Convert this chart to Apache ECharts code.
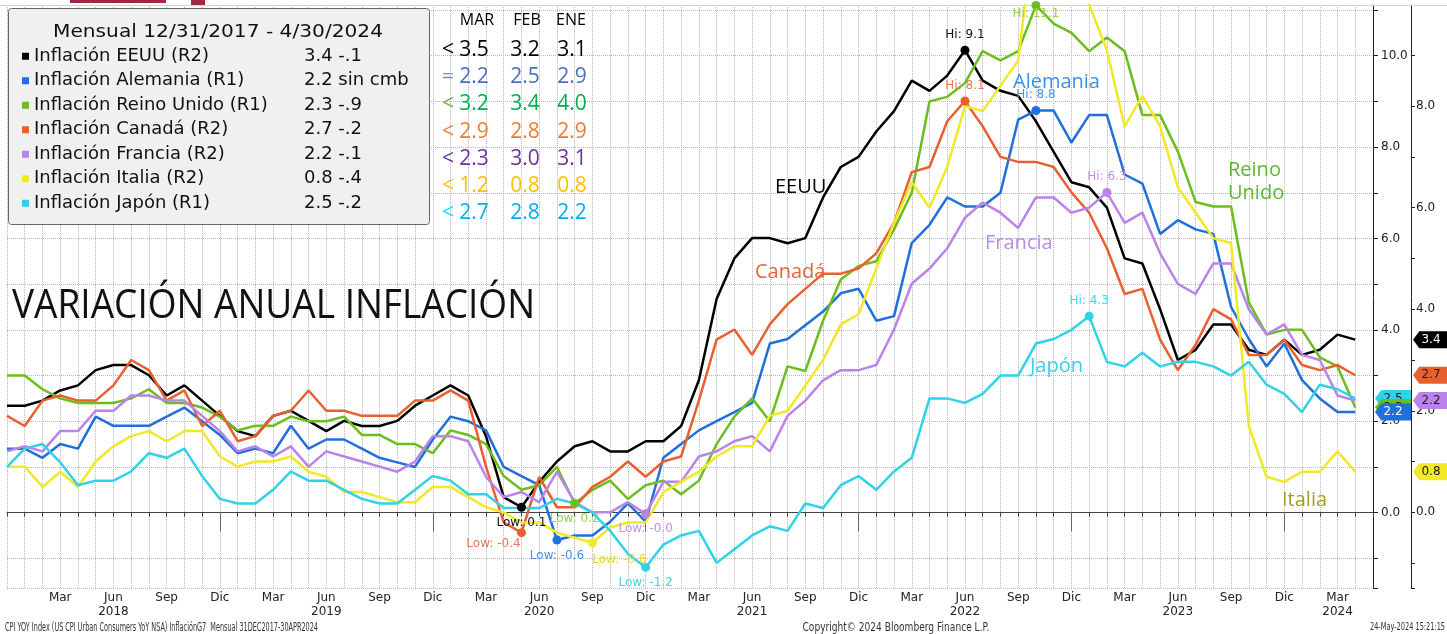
<!DOCTYPE html>
<html>
<head>
<meta charset="utf-8">
<script src="https://cdn.jsdelivr.net/npm/echarts@6.0.0/dist/echarts.min.js"></script>
<style>
    html, body { margin: 0; padding: 0; background: #fff; }
    #chart { width: 1447px; height: 634px; }
</style>
</head>
<body>
<div id="chart"></div>
<script>
// months Dec 2017 .. May 2024 (last slot is empty, Bloomberg leaves one month of room)
const months = [];
for (let y = 2017, m = 12; months.length < 78; m++) {
    if (m > 12) { m = 1; y++; }
    months.push(y + '-' + (m < 10 ? '0' + m : m));
}
const quarterNames = ['Mar', 'Jun', 'Sep', 'Dic'];
const yearLabelMonths = ['2018-06', '2019-06', '2020-06', '2021-06', '2022-06', '2023-06', '2024-03'];

// YoY inflation, monthly, Dec 2017 .. Apr 2024
const eeuu = [2.1,
    2.1, 2.2, 2.4, 2.5, 2.8, 2.9, 2.9, 2.7, 2.3, 2.5, 2.2, 1.9,
    1.6, 1.5, 1.9, 2.0, 1.8, 1.6, 1.8, 1.7, 1.7, 1.8, 2.1, 2.3,
    2.5, 2.3, 1.5, 0.3, 0.1, 0.6, 1.0, 1.3, 1.4, 1.2, 1.2, 1.4,
    1.4, 1.7, 2.6, 4.2, 5.0, 5.4, 5.4, 5.3, 5.4, 6.2, 6.8, 7.0,
    7.5, 7.9, 8.5, 8.3, 8.6, 9.1, 8.5, 8.3, 8.2, 7.7, 7.1, 6.5,
    6.4, 6.0, 5.0, 4.9, 4.0, 3.0, 3.2, 3.7, 3.7, 3.2, 3.1, 3.4,
    3.1, 3.2, 3.5, 3.4];
const alemania = [1.4,
    1.4, 1.2, 1.5, 1.4, 2.1, 1.9, 1.9, 1.9, 2.1, 2.3, 2.0, 1.7,
    1.3, 1.4, 1.3, 1.9, 1.4, 1.6, 1.6, 1.4, 1.2, 1.1, 1.0, 1.6,
    2.1, 2.0, 1.8, 1.0, 0.8, 0.6, -0.6, -0.5, -0.5, -0.2, 0.2, -0.2,
    1.2, 1.5, 1.8, 2.0, 2.2, 2.4, 3.7, 3.8, 4.1, 4.4, 4.8, 4.9,
    4.2, 4.3, 5.9, 6.3, 6.9, 6.7, 6.7, 7.0, 8.6, 8.8, 8.8, 8.1,
    8.7, 8.7, 7.4, 7.2, 6.1, 6.4, 6.2, 6.1, 4.5, 3.8, 3.2, 3.7,
    2.9, 2.5, 2.2, 2.2];
const reinoUnido = [3.0,
    3.0, 2.7, 2.5, 2.4, 2.4, 2.4, 2.5, 2.7, 2.4, 2.4, 2.3, 2.1,
    1.8, 1.9, 1.9, 2.1, 2.0, 2.0, 2.1, 1.7, 1.7, 1.5, 1.5, 1.3,
    1.8, 1.7, 1.5, 0.8, 0.5, 0.6, 1.0, 0.2, 0.5, 0.7, 0.3, 0.6,
    0.7, 0.4, 0.7, 1.5, 2.1, 2.5, 2.0, 3.2, 3.1, 4.2, 5.1, 5.4,
    5.5, 6.2, 7.0, 9.0, 9.1, 9.4, 10.1, 9.9, 10.1, 11.1, 10.7, 10.5,
    10.1, 10.4, 10.1, 8.7, 8.7, 7.9, 6.8, 6.7, 6.7, 4.6, 3.9, 4.0,
    4.0, 3.4, 3.2, 2.3];
const canada = [1.9,
    1.7, 2.2, 2.3, 2.2, 2.2, 2.5, 3.0, 2.8, 2.2, 2.4, 1.7, 2.0,
    1.4, 1.5, 1.9, 2.0, 2.4, 2.0, 2.0, 1.9, 1.9, 1.9, 2.2, 2.2,
    2.4, 2.2, 0.9, -0.2, -0.4, 0.7, 0.1, 0.1, 0.5, 0.7, 1.0, 0.7,
    1.0, 1.1, 2.2, 3.4, 3.6, 3.1, 3.7, 4.1, 4.4, 4.7, 4.7, 4.8,
    5.1, 5.7, 6.7, 6.8, 7.7, 8.1, 7.6, 7.0, 6.9, 6.9, 6.8, 6.3,
    5.9, 5.2, 4.3, 4.4, 3.4, 2.8, 3.3, 4.0, 3.8, 3.1, 3.1, 3.4,
    2.9, 2.8, 2.9, 2.7];
const francia = [1.2,
    1.3, 1.2, 1.6, 1.6, 2.0, 2.0, 2.3, 2.3, 2.2, 2.2, 1.9, 1.6,
    1.2, 1.3, 1.1, 1.3, 0.9, 1.2, 1.1, 1.0, 0.9, 0.8, 1.0, 1.5,
    1.5, 1.4, 0.7, 0.3, 0.4, 0.2, 0.8, 0.2, 0.0, 0.0, 0.2, -0.03,
    0.6, 0.6, 1.1, 1.2, 1.4, 1.5, 1.2, 1.9, 2.2, 2.6, 2.8, 2.8,
    2.9, 3.6, 4.5, 4.8, 5.2, 5.8, 6.1, 5.9, 5.6, 6.2, 6.2, 5.9,
    6.0, 6.3, 5.7, 5.9, 5.1, 4.5, 4.3, 4.9, 4.9, 4.0, 3.5, 3.7,
    3.1, 3.0, 2.3, 2.2];
const italia = [0.9,
    0.9, 0.5, 0.8, 0.5, 1.0, 1.3, 1.5, 1.6, 1.4, 1.6, 1.6, 1.1,
    0.9, 1.0, 1.0, 1.1, 0.8, 0.7, 0.4, 0.4, 0.3, 0.2, 0.2, 0.5,
    0.5, 0.3, 0.1, 0.0, -0.2, -0.2, -0.4, -0.5, -0.6, -0.3, -0.2, -0.2,
    0.4, 0.6, 0.8, 1.1, 1.3, 1.3, 1.9, 2.0, 2.5, 3.0, 3.7, 3.9,
    4.8, 5.7, 6.5, 6.0, 6.8, 8.0, 7.9, 8.4, 8.9, 11.8, 11.8, 11.6,
    10.0, 9.1, 7.6, 8.2, 7.6, 6.4, 5.9, 5.4, 5.3, 1.7, 0.7, 0.6,
    0.8, 0.8, 1.2, 0.8];
const japon = [1.0,
    1.4, 1.5, 1.1, 0.6, 0.7, 0.7, 0.9, 1.3, 1.2, 1.4, 0.8, 0.3,
    0.2, 0.2, 0.5, 0.9, 0.7, 0.7, 0.5, 0.3, 0.2, 0.2, 0.5, 0.8,
    0.7, 0.4, 0.4, 0.1, 0.1, 0.1, 0.3, 0.2, 0.0, -0.4, -0.9, -1.2,
    -0.7, -0.5, -0.4, -1.1, -0.8, -0.5, -0.3, -0.4, 0.2, 0.1, 0.6, 0.8,
    0.5, 0.9, 1.2, 2.5, 2.5, 2.4, 2.6, 3.0, 3.0, 3.7, 3.8, 4.0,
    4.3, 3.3, 3.2, 3.5, 3.2, 3.3, 3.3, 3.2, 3.0, 3.3, 2.8, 2.6,
    2.2, 2.8, 2.7, 2.5];

const legendValues = ['3.4 -.1', '2.2 sin cmb', '2.3 -.9', '2.7 -.2', '2.2 -.1', '0.8 -.4', '2.5 -.2'];

// small table MAR / FEB / ENE
const tableHead = ['MAR', 'FEB', 'ENE'];
const tableSign = ['<', '=', '<', '<', '<', '<', '<'];
const tableMar = [3.5, 2.2, 3.2, 2.9, 2.3, 1.2, 2.7];
const tableFeb = [3.2, 2.5, 3.4, 2.8, 3.0, 0.8, 2.8];
const tableEne = [3.1, 2.9, 4.0, 2.9, 3.1, 0.8, 2.2];

// axis ranges (R1 inner, R2 outer)
const r1Min = -1.65, r1Max = 11.11;
const r2Min = -1.49, r2Max = 9.99;

const FONT = '"DejaVu Sans", Verdana, sans-serif';
const CAL = '"Open Sans", "Noto Sans", sans-serif';

const seriesDefs = [
    { name: 'Inflación EEUU (R2)', data: eeuu, axis: 1, color: '#000000', text: '#111111', tagText: '#ffffff', hi: {}, lo: {} },
    { name: 'Inflación Alemania (R1)', data: alemania, axis: 0, color: '#1f6fdc', text: '#4a93e6', tagText: '#ffffff', hi: {}, lo: {}, z: 8 },
    { name: 'Inflación Reino Unido (R1)', data: reinoUnido, axis: 0, color: '#6cbd1e', text: '#9ad04c', tagText: '#222', hi: { position: 'inside', offset: [0, 8] }, lo: {}, z: 7 },
    { name: 'Inflación Canadá (R2)', data: canada, axis: 1, color: '#e9602f', text: '#e97a55', tagText: '#222', hi: {}, lo: { offset: [-28, -4] } },
    { name: 'Inflación Francia (R2)', data: francia, axis: 1, color: '#bb82ea', text: '#c08fe9', tagText: '#222', hi: {}, lo: {} },
    { name: 'Inflación Italia (R2)', data: italia, axis: 1, color: '#f1e826', text: '#e6dd1a', tagText: '#222', hi: null, lo: { offset: [27, 2] } },
    { name: 'Inflación Japón (R1)', data: japon, axis: 0, color: '#30d2e8', text: '#3fd5ea', tagText: '#222', hi: {}, lo: {}, z: 6 },
];

const tagPath = 'path://M0,8L7,0L40,0L40,16L7,16Z';

const buildMarks = (s) => {
    let pts = [];
    if (s.hi) {
        pts.push({ type: 'max', label: Object.assign({ position: 'top', formatter: p => 'Hi: ' + p.value.toFixed(1) }, s.hi) });
    }
    pts.push({ type: 'min', label: Object.assign({ position: 'bottom', formatter: p => 'Low: ' + p.value.toFixed(1) }, s.lo) });
    let last = s.data[s.data.length - 1];
    pts.push({
        coord: [months[months.length - 1], last],
        value: last,
        symbol: tagPath,
        symbolSize: [36, 17],
        symbolOffset: [s.axis === 1 ? 58 : 20, 0],
        label: { position: 'inside', formatter: last.toFixed(1), color: s.tagText, fontSize: 12, fontFamily: FONT },
    });
    return {
        symbol: 'circle',
        symbolSize: 9,
        z: s.z || 5,
        itemStyle: { color: s.color },
        label: { color: s.text, fontFamily: FONT, fontSize: 12 },
        data: pts,
    };
};

const evenLabel = (v) => (Math.abs(v / 2 - Math.round(v / 2)) < 1e-6 ? v.toFixed(1) : '');

// width fitting for the squeezed Bloomberg fonts
const measureCtx = document.createElement('canvas').getContext('2d');
const fitScale = (text, font, width) => {
    measureCtx.font = font;
    return width / measureCtx.measureText(text).width;
};

const txt = (text, x, y, font, fill, align, width) => {
    let el = {
        type: 'text', x: x, y: y, z: 10,
        style: { text: text, font: font, fill: fill, align: align || 'left', verticalAlign: 'middle' },
    };
    if (width) el.scaleX = fitScale(text, font, width);
    return el;
};

let graphics = [
    { type: 'rect', shape: { x: 70, y: 0, width: 96, height: 3 }, style: { fill: '#9c2a45' }, z: 10 },
    { type: 'rect', shape: { x: 191, y: 0, width: 14, height: 5 }, style: { fill: '#9c2a45' }, z: 10 },
    { type: 'line', shape: { x1: 0, y1: 5.5, x2: 1447, y2: 5.5 }, style: { stroke: '#d4d4d4', lineWidth: 1 }, z: 1 },
    { type: 'rect', shape: { x: 8.5, y: 8.5, width: 421, height: 216, r: 3 }, style: { fill: '#f0f0f0', stroke: '#666', lineWidth: 1 }, z: 1 },
    txt('Mensual 12/31/2017 - 4/30/2024', 218, 32, '18px ' + FONT, '#111', 'center', 330),
];

// table
const headX = [477, 527, 571];
const colX = [474, 525, 572];
const valueColors = ['#000000', '#4472c4', '#00b050', '#ed7d31', '#7030a0', '#ffc000', '#00b0f0'];
const signColors = ['#000000', '#5b9bd5', '#70ad47', '#ed7d31', '#7030a0', '#ffc000', '#00e8f8'];
tableHead.forEach((h, i) => graphics.push(txt(h, headX[i], 20, '16px ' + CAL, '#000', 'center')));
tableSign.forEach((sg, i) => {
    let y = 50 + i * 27.2;
    graphics.push(txt(sg, 448, y, '21px ' + CAL, signColors[i], 'center'));
    [tableMar, tableFeb, tableEne].forEach((col, c) => {
        graphics.push(txt(col[i].toFixed(1), colX[c], y, '21px ' + CAL, valueColors[i], 'center'));
    });
});

// big title + series name notes
graphics.push(txt('VARIACIÓN ANUAL INFLACIÓN', 12, 307, '40px ' + CAL, '#111', 'left', 523));
[
    ['EEUU', 775, 187, '#000000'],
    ['Canadá', 755, 272, '#e8643a'],
    ['Alemania', 1013, 82, '#3d8fe6'],
    ['Francia', 985, 243, '#b98be8'],
    ['Japón', 1030, 366, '#33d2e8'],
    ['Reino', 1228, 170, '#5cb82e'],
    ['Unido', 1228, 193, '#5cb82e'],
    ['Italia', 1282, 500, '#a59d2a'],
].forEach(n => graphics.push(txt(n[0], n[1], n[2], '20px ' + CAL, n[3], 'left')));

// footer
graphics.push(txt('CPI YOY Index (US CPI Urban Consumers YoY NSA) InflaciónG7  Mensual 31DEC2017-30APR2024', 5, 628, '11.5px ' + FONT, '#333', 'left', 313));
graphics.push(txt('Copyright\u00a9 2024 Bloomberg Finance L.P.', 896, 628, '11.5px ' + FONT, '#333', 'center', 187));
graphics.push(txt('24-May-2024 15:21:15', 1445, 627, '11px ' + FONT, '#333', 'right', 75));

const chart = echarts.init(document.getElementById('chart'));

const option = {
    animation: false,
    backgroundColor: '#ffffff',
    grid: { left: 7, right: 74, top: 5, bottom: 46, outerBoundsMode: 'none' },
    legend: {
        orient: 'vertical',
        left: 17,
        top: 39,
        padding: 5,
        icon: 'rect',
        itemWidth: 7,
        itemHeight: 7,
        itemGap: 0,
        selectedMode: false,
        z: 5,
        data: seriesDefs.map(s => s.name),
        formatter: (name) => {
            let i = seriesDefs.findIndex(s => s.name === name);
            return '{n|' + name + '}{v|' + legendValues[i] + '}';
        },
        textStyle: {
            fontFamily: FONT, fontSize: 18, color: '#111', lineHeight: 24.5,
            rich: {
                n: { width: 270, fontFamily: FONT, fontSize: 18, lineHeight: 24.5, color: '#111' },
                v: { fontFamily: FONT, fontSize: 18, lineHeight: 24.5, color: '#111' },
            },
        },
    },
    xAxis: [
        {
            type: 'category',
            data: months,
            boundaryGap: false,
            axisLine: { lineStyle: { color: '#444', width: 1 } },
            axisTick: { interval: 0, length: 4, lineStyle: { color: '#444' } },
            axisLabel: {
                interval: (i, v) => i > 0 && Number(v.slice(5)) % 3 === 0,
                formatter: v => quarterNames[Number(v.slice(5)) / 3 - 1],
                margin: 4,
                fontFamily: FONT, fontSize: 12, color: '#222',
            },
            splitLine: { show: true, interval: 0, lineStyle: { type: 'dotted', color: '#b8b8b8', width: 1 } },
        },
        {
            type: 'category',
            data: months,
            boundaryGap: false,
            position: 'bottom',
            offset: 14,
            axisLine: { show: false },
            axisTick: { show: true, interval: (i, v) => i > 0 && v.slice(5) === '12', length: 19, lineStyle: { color: '#666' } },
            axisLabel: {
                interval: (i, v) => yearLabelMonths.indexOf(v) >= 0,
                formatter: v => v.slice(0, 4),
                margin: 4,
                fontFamily: FONT, fontSize: 12, color: '#222',
            },
            splitLine: { show: false },
        },
    ],
    yAxis: [
        {
            type: 'value',
            position: 'right',
            min: r1Min,
            max: r1Max,
            splitNumber: 13,
            axisLine: { show: true, lineStyle: { color: '#222' } },
            axisTick: { show: true, length: 5, lineStyle: { color: '#222' } },
            axisLabel: { formatter: evenLabel, margin: 8, fontFamily: FONT, fontSize: 12, color: '#222' },
            splitLine: { show: true, lineStyle: { type: 'dotted', color: '#b8b8b8', width: 1 } },
        },
        {
            type: 'value',
            position: 'right',
            offset: 38,
            min: r2Min,
            max: r2Max,
            splitNumber: 11,
            axisLine: { show: true, lineStyle: { color: '#222' } },
            axisTick: { show: true, length: 4, lineStyle: { color: '#222' } },
            axisLabel: { formatter: evenLabel, margin: 5, fontFamily: FONT, fontSize: 12, color: '#222' },
            splitLine: { show: false },
        },
    ],
    graphic: graphics,
    series: seriesDefs.map(s => ({
        name: s.name,
        type: 'line',
        data: s.data,
        xAxisIndex: 0,
        yAxisIndex: s.axis,
        symbol: 'none',
        showSymbol: false,
        clip: true,
        color: s.color,
        lineStyle: { color: s.color, width: 2.5 },
        emphasis: { disabled: true },
        markPoint: buildMarks(s),
    })),
};

chart.setOption(option);
</script>
</body>
</html>
